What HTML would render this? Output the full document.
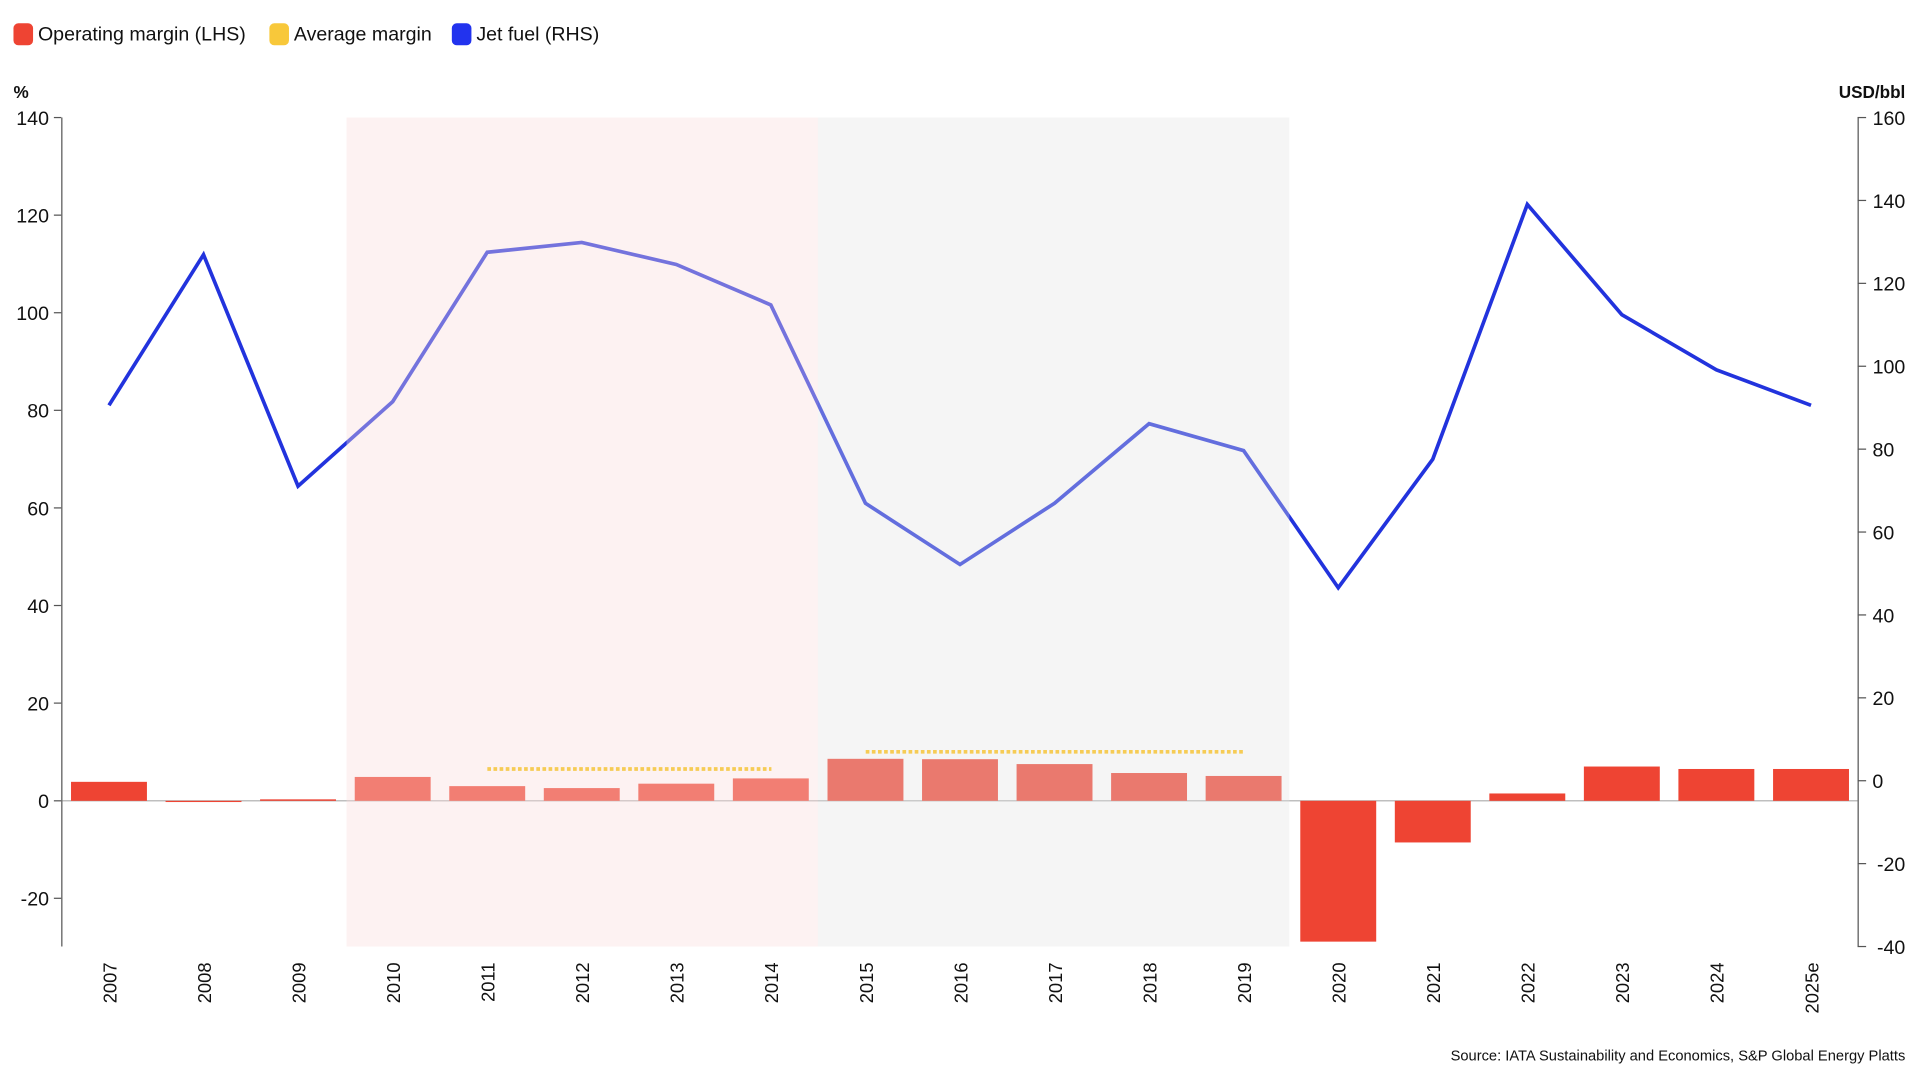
<!DOCTYPE html>
<html><head><meta charset="utf-8"><style>
html,body{margin:0;padding:0;background:#fff;width:1920px;height:1080px;overflow:hidden}
svg{display:block}
text{font-family:"Liberation Sans",sans-serif;fill:#111}
</style></head><body>
<svg width="1920" height="1080" viewBox="0 0 1568 882" xmlns="http://www.w3.org/2000/svg">
<!-- legend -->
<rect x="11" y="19" width="16" height="18" rx="4" fill="#ee4433"/>
<text x="31" y="33" font-size="16">Operating margin (LHS)</text>
<rect x="220" y="19" width="16" height="18" rx="4" fill="#f8c83a"/>
<text x="240" y="33" font-size="16">Average margin</text>
<rect x="369" y="19" width="16" height="18" rx="4" fill="#2233ee"/>
<text x="389" y="33" font-size="16">Jet fuel (RHS)</text>

<text x="11" y="80" font-size="14" font-weight="bold">%</text>
<text x="1556" y="80" font-size="14" font-weight="bold" text-anchor="end">USD/bbl</text>

<!-- axes -->
<g stroke="#555" stroke-width="1" fill="none">
<line x1="50.5" y1="96" x2="50.5" y2="773"/>
<line x1="1517.5" y1="96" x2="1517.5" y2="773"/>
<line x1="44" y1="96" x2="50" y2="96"/><line x1="44" y1="175.7" x2="50" y2="175.7"/><line x1="44" y1="255.4" x2="50" y2="255.4"/><line x1="44" y1="335.1" x2="50" y2="335.1"/><line x1="44" y1="414.8" x2="50" y2="414.8"/><line x1="44" y1="494.5" x2="50" y2="494.5"/><line x1="44" y1="574.2" x2="50" y2="574.2"/><line x1="44" y1="654" x2="50" y2="654"/><line x1="44" y1="733.6" x2="50" y2="733.6"/>
<line x1="1517" y1="96" x2="1524" y2="96"/><line x1="1517" y1="163.7" x2="1524" y2="163.7"/><line x1="1517" y1="231.4" x2="1524" y2="231.4"/><line x1="1517" y1="299.1" x2="1524" y2="299.1"/><line x1="1517" y1="366.8" x2="1524" y2="366.8"/><line x1="1517" y1="434.5" x2="1524" y2="434.5"/><line x1="1517" y1="502.2" x2="1524" y2="502.2"/><line x1="1517" y1="569.9" x2="1524" y2="569.9"/><line x1="1517" y1="637.6" x2="1524" y2="637.6"/><line x1="1517" y1="705.3" x2="1524" y2="705.3"/><line x1="1517" y1="773" x2="1524" y2="773"/>
</g>
<g font-size="16" text-anchor="end">
<text x="40" y="102">140</text><text x="40" y="181.7">120</text><text x="40" y="261.4">100</text><text x="40" y="341.1">80</text><text x="40" y="420.8">60</text><text x="40" y="500.5">40</text><text x="40" y="580.2">20</text><text x="40" y="660">0</text><text x="40" y="739.6">-20</text>
</g>
<g font-size="16" text-anchor="end">
<text x="1556" y="102">160</text><text x="1556" y="169.7">140</text><text x="1556" y="237.4">120</text><text x="1556" y="305.1">100</text><text x="1547" y="372.8">80</text><text x="1547" y="440.5">60</text><text x="1547" y="508.2">40</text><text x="1547" y="575.9">20</text><text x="1538" y="643.6">0</text><text x="1556" y="711.3">-20</text><text x="1556" y="779">-40</text>
</g>

<!-- zero line -->
<line x1="51" y1="654" x2="1517" y2="654" stroke="#aaa" stroke-width="1"/>

<!-- bars -->
<g fill="#ee4433">
<rect x="58" y="638.5" width="62" height="15.5"/>
<rect x="135.2" y="654" width="62" height="1"/>
<rect x="212.4" y="652.8" width="62" height="1.2"/>
<rect x="289.7" y="634.5" width="62" height="19.5"/>
<rect x="366.9" y="642" width="62" height="12"/>
<rect x="444.1" y="643.6" width="62" height="10.4"/>
<rect x="521.3" y="640" width="62" height="14"/>
<rect x="598.5" y="635.7" width="62" height="18.3"/>
<rect x="675.8" y="619.7" width="62" height="34.3"/>
<rect x="753" y="620" width="62" height="34"/>
<rect x="830.2" y="624" width="62" height="30"/>
<rect x="907.4" y="631.3" width="62" height="22.7"/>
<rect x="984.6" y="633.7" width="62" height="20.3"/>
<rect x="1061.9" y="654" width="62" height="115"/>
<rect x="1139.1" y="654" width="62" height="34"/>
<rect x="1216.3" y="648" width="62" height="6"/>
<rect x="1293.5" y="626" width="62" height="28"/>
<rect x="1370.7" y="628" width="62" height="26"/>
<rect x="1448" y="628" width="62" height="26"/>
</g>

<!-- jet fuel -->
<polyline fill="none" stroke="#2233dd" stroke-width="3" stroke-linejoin="miter"
points="89,331 166.2,208 243.4,397 320.7,328 397.9,206 475.1,198 552.3,216 629.5,249 706.8,411 784,461 861.2,411 938.4,346 1015.6,368 1092.9,480 1170.1,375 1247.3,167 1324.5,257 1401.7,302 1479,331"/>

<!-- band overlays -->
<rect x="283" y="96" width="385" height="677" fill="#f9dcdc" fill-opacity="0.38"/>
<rect x="668" y="96" width="385" height="677" fill="#e2e2e2" fill-opacity="0.34"/>

<!-- average margin -->
<line x1="398" y1="628" x2="630" y2="628" stroke="#f6cc55" stroke-width="3" stroke-dasharray="3,2"/>
<line x1="707" y1="614" x2="1015" y2="614" stroke="#f6cc55" stroke-width="3" stroke-dasharray="3,2"/>

<!-- x labels -->
<g font-size="15" text-anchor="end">
<text transform="translate(95,786) rotate(-90)">2007</text>
<text transform="translate(172.2,786) rotate(-90)">2008</text>
<text transform="translate(249.4,786) rotate(-90)">2009</text>
<text transform="translate(326.7,786) rotate(-90)">2010</text>
<text transform="translate(403.9,786) rotate(-90)">2011</text>
<text transform="translate(481.1,786) rotate(-90)">2012</text>
<text transform="translate(558.3,786) rotate(-90)">2013</text>
<text transform="translate(635.5,786) rotate(-90)">2014</text>
<text transform="translate(712.8,786) rotate(-90)">2015</text>
<text transform="translate(790,786) rotate(-90)">2016</text>
<text transform="translate(867.2,786) rotate(-90)">2017</text>
<text transform="translate(944.4,786) rotate(-90)">2018</text>
<text transform="translate(1021.6,786) rotate(-90)">2019</text>
<text transform="translate(1098.9,786) rotate(-90)">2020</text>
<text transform="translate(1176.1,786) rotate(-90)">2021</text>
<text transform="translate(1253.3,786) rotate(-90)">2022</text>
<text transform="translate(1330.5,786) rotate(-90)">2023</text>
<text transform="translate(1407.7,786) rotate(-90)">2024</text>
<text transform="translate(1485,786) rotate(-90)">2025e</text>
</g>

<text x="1556" y="866" font-size="12" text-anchor="end">Source: IATA Sustainability and Economics, S&amp;P Global Energy Platts</text>
</svg>
</body></html>
